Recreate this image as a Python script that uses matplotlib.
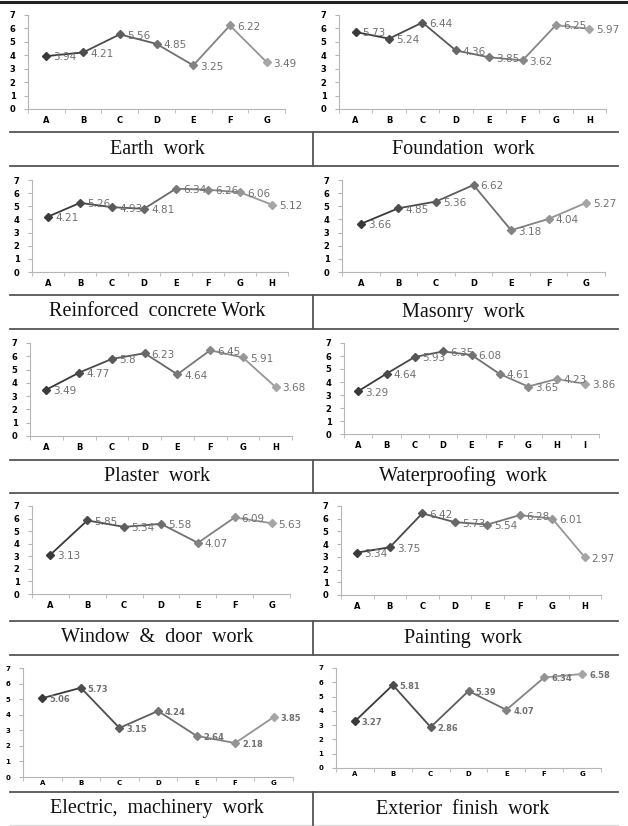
import matplotlib
matplotlib.use("Agg")
import matplotlib.pyplot as plt
import numpy as np
from matplotlib.colors import to_rgb

# ---------------- data ----------------
titles = ["Earth  work", "Foundation  work",
          "Reinforced  concrete Work", "Masonry  work",
          "Plaster  work", "Waterproofing  work",
          "Window  &  door  work", "Painting  work",
          "Electric,  machinery  work", "Exterior  finish  work"]

earth = [3.94, 4.21, 5.56, 4.85, 3.25, 6.22, 3.49]
foundation = [5.73, 5.24, 6.44, 4.36, 3.85, 3.62, 6.25, 5.97]
reinforced = [4.21, 5.26, 4.93, 4.81, 6.34, 6.26, 6.06, 5.12]
masonry = [3.66, 4.85, 5.36, 6.62, 3.18, 4.04, 5.27]
plaster = [3.49, 4.77, 5.8, 6.23, 4.64, 6.45, 5.91, 3.68]
waterproofing = [3.29, 4.64, 5.93, 6.35, 6.08, 4.61, 3.65, 4.23, 3.86]
window = [3.13, 5.85, 5.34, 5.58, 4.07, 6.09, 5.63]
painting = [3.34, 3.75, 6.42, 5.73, 5.54, 6.28, 6.01, 2.97]
electric = [5.06, 5.73, 3.15, 4.24, 2.64, 2.18, 3.85]
exterior = [3.27, 5.81, 2.86, 5.39, 4.07, 6.34, 6.58]

series = [earth, foundation, reinforced, masonry, plaster,
          waterproofing, window, painting, electric, exterior]
letters = list("ABCDEFGHI")
y_ticks = [0, 1, 2, 3, 4, 5, 6, 7]

# ---------------- layout (pixels) ----------------
W, H = 628, 826
panel_px = [
    (28, 285, 15, 109), (339, 606, 15, 109),
    (32, 288, 180, 272), (342, 605, 180, 272),
    (30, 292, 343, 436), (344, 599, 343, 434),
    (32, 290, 506, 594), (341, 601, 506, 595),
    (23, 293, 668, 777), (336, 601, 668, 768),
]
caption_bands = [(132, 166), (295, 329), (460, 493), (621, 655), (792, 826)]

fig = plt.figure(figsize=(W / 100, H / 100), dpi=100)
fig.patch.set_facecolor("white")

dark = np.array(to_rgb("#3a3a3a"))
light = np.array(to_rgb("#a6a6a6"))

for k, (vals, (x0, x1, yt, yb)) in enumerate(zip(series, panel_px)):
    ax = fig.add_axes([x0 / W, 1 - yb / H, (x1 - x0) / W, (yb - yt) / H])
    n = len(vals)
    xs = np.arange(n)
    small = k >= 8
    cols = [dark + (light - dark) * (i / max(n - 1, 1)) for i in range(n)]
    for i in range(n - 1):
        ax.plot(xs[i:i + 2], vals[i:i + 2], color=cols[i], lw=1.3,
                solid_capstyle="round", zorder=2)
    for i in range(n):
        ax.plot(xs[i], vals[i], marker="D", ms=4.2 if not small else 3.8,
                color=cols[i], mec=cols[i], zorder=3)
        ax.annotate(f"{vals[i]:g}", (xs[i], vals[i]), xytext=(5, -1),
                    textcoords="offset points", ha="left", va="center",
                    fontsize=7.5 if not small else 6.0,
                    color="#707070",
                    fontweight="bold" if small else "normal", zorder=4)
    ax.set_xlim(-0.5, n - 0.5)
    ax.set_ylim(0, 7)
    for s in ("top", "right"):
        ax.spines[s].set_visible(False)
    for s in ("left", "bottom"):
        ax.spines[s].set_color("#b5b5b5")
        ax.spines[s].set_linewidth(0.8)
    ax.set_yticks(y_ticks)
    ax.set_yticklabels([str(v) for v in y_ticks],
                       fontsize=6 if not small else 5, fontweight="bold")
    ax.set_xticks(xs)
    ax.set_xticklabels(letters[:n], fontsize=6 if not small else 5,
                       fontweight="bold")
    ax.set_xticks(np.arange(n + 1) - 0.5, minor=True)
    ax.tick_params(axis="x", which="major", length=0,
                   pad=5 if not small else 2)
    ax.tick_params(axis="x", which="minor", length=3, color="#b5b5b5",
                   direction="out")
    ax.tick_params(axis="y", length=3, color="#b5b5b5", pad=6)
    ax.set_facecolor("none")

# overlay for table lines and captions
ov = fig.add_axes([0, 0, 1, 1])
ov.set_xlim(0, W)
ov.set_ylim(H, 0)
ov.axis("off")
ov.set_zorder(-1)
ov.plot([0, W], [1.5, 1.5], color="#222222", lw=2.2)
for r, (t, b) in enumerate(caption_bands):
    ov.plot([10, 618], [t, t], color="#555555", lw=1.3)
    if r < 4:
        ov.plot([10, 618], [b, b], color="#555555", lw=1.3)
    else:
        ov.plot([10, 618], [b - 1, b - 1], color="#dddddd", lw=1.0)
    ov.plot([313, 313], [t, b if r < 4 else b - 1], color="#555555", lw=1.3)
    cy = (t + b) / 2
    ov.text(157, cy, titles[2 * r], ha="center", va="center",
            fontsize=14.5, family="Liberation Serif", color="#111111")
    ov.text(463, cy, titles[2 * r + 1], ha="center", va="center",
            fontsize=14.5, family="Liberation Serif", color="#111111")

fig.savefig("out.png", dpi=100, facecolor="white")
